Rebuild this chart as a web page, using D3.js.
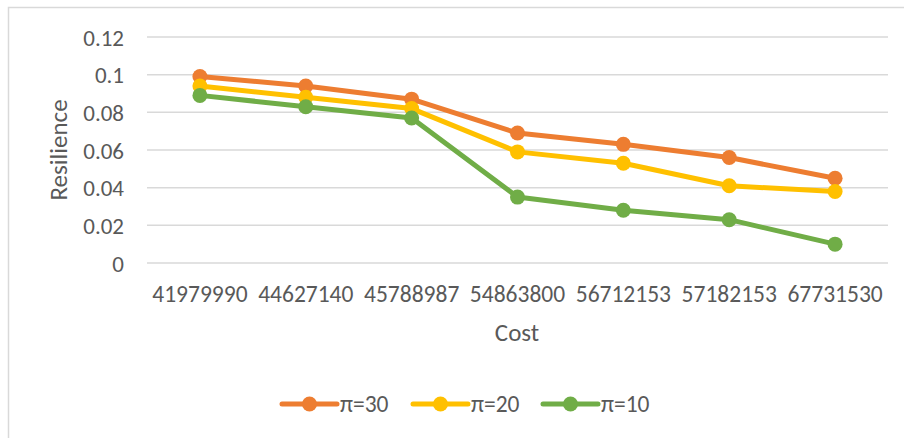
<!DOCTYPE html>
<html>
<head>
<meta charset="utf-8">
<script src="https://cdn.jsdelivr.net/npm/d3@7"></script>
<style>
  html, body { margin: 0; padding: 0; background: #fff; }
  svg { display: block; }
  text { font-family: Carlito, Lato, "Open Sans", sans-serif; fill: #595959; }
</style>
</head>
<body>
<svg id="chart" width="904" height="438"></svg>
<script>
// Cost levels on the x axis
const categories = ["41979990", "44627140", "45788987", "54863800", "56712153", "57182153", "67731530"];

// Resilience for each penalty level
const seriesNames = ["π=30", "π=20", "π=10"];
const pi30 = [0.099, 0.094, 0.087, 0.069, 0.063, 0.056, 0.045];
const pi20 = [0.094, 0.088, 0.082, 0.059, 0.053, 0.041, 0.038];
const pi10 = [0.089, 0.083, 0.077, 0.035, 0.028, 0.023, 0.010];

const yTicks = [0, 0.02, 0.04, 0.06, 0.08, 0.1, 0.12];
const colors = ["#ED7D31", "#FFC000", "#70AD47"];

const series = [pi30, pi20, pi10].map((values, i) => ({ name: seriesNames[i], values, color: colors[i] }));

const svg = d3.select("#chart");

// Chart area frame
svg.append("rect")
  .attr("x", 8.5).attr("y", 7.5)
  .attr("width", 904).attr("height", 440)
  .attr("fill", "#fff")
  .attr("stroke", "#d9d9d9").attr("stroke-width", 1.5);

const plot = { left: 147, right: 888, top: 37, bottom: 263 };

const x = d3.scaleBand().domain(categories).range([plot.left, plot.right]);
const y = d3.scaleLinear().domain([0, 0.12]).range([plot.bottom, plot.top]);

// Horizontal gridlines
svg.append("g")
  .selectAll("line")
  .data(yTicks)
  .join("line")
  .attr("x1", plot.left).attr("x2", plot.right)
  .attr("y1", d => y(d)).attr("y2", d => y(d))
  .attr("stroke", "#d9d9d9").attr("stroke-width", 1.5);

// Y axis tick labels
const yAxis = d3.axisLeft(y).tickValues(yTicks).tickSize(0).tickPadding(0)
  .tickFormat(d => d3.format("")(+d.toFixed(2)));
svg.append("g")
  .attr("transform", `translate(${124},0)`)
  .call(yAxis)
  .call(g => g.select(".domain").remove())
  .call(g => g.selectAll("text")
    .attr("font-size", 23).attr("font-family", null).attr("fill", "#595959")
    .attr("dy", "0.36em"));

// X axis tick labels
const xAxis = d3.axisBottom(x).tickSize(0).tickPadding(0);
svg.append("g")
  .attr("transform", `translate(0,${285})`)
  .call(xAxis)
  .call(g => g.select(".domain").remove())
  .call(g => g.selectAll("text")
    .attr("font-size", 23.5).attr("font-family", null).attr("fill", "#595959")
    .attr("dy", "0.71em"));

// Axis titles
svg.append("text")
  .attr("x", 517).attr("y", 341)
  .attr("text-anchor", "middle")
  .attr("font-size", 25)
  .text("Cost");

svg.append("text")
  .attr("transform", `translate(67,150) rotate(-90)`)
  .attr("text-anchor", "middle")
  .attr("font-size", 25)
  .text("Resilience");

// Lines and markers
const line = d3.line()
  .x((d, i) => x(categories[i]) + x.bandwidth() / 2)
  .y(d => y(d));

const g = svg.append("g");
series.forEach(s => {
  g.append("path")
    .datum(s.values)
    .attr("d", line)
    .attr("fill", "none")
    .attr("stroke", s.color)
    .attr("stroke-width", 5)
    .attr("stroke-linejoin", "round")
    .attr("stroke-linecap", "round");
  g.selectAll(null)
    .data(s.values)
    .join("circle")
    .attr("cx", (d, i) => x(categories[i]) + x.bandwidth() / 2)
    .attr("cy", d => y(d))
    .attr("r", 7.5)
    .attr("fill", s.color);
});

// Legend
const legendStarts = [282, 413, 543];
const legend = svg.append("g");
series.forEach((s, i) => {
  const lx = legendStarts[i];
  const ly = 404;
  legend.append("line")
    .attr("x1", lx).attr("x2", lx + 55)
    .attr("y1", ly).attr("y2", ly)
    .attr("stroke", s.color).attr("stroke-width", 5)
    .attr("stroke-linecap", "round");
  legend.append("circle")
    .attr("cx", lx + 27.5).attr("cy", ly).attr("r", 7.5)
    .attr("fill", s.color);
  legend.append("text")
    .attr("x", lx + 58).attr("y", ly)
    .attr("dy", "0.36em")
    .attr("font-size", 23.5)
    .text(s.name);
});
</script>
</body>
</html>
